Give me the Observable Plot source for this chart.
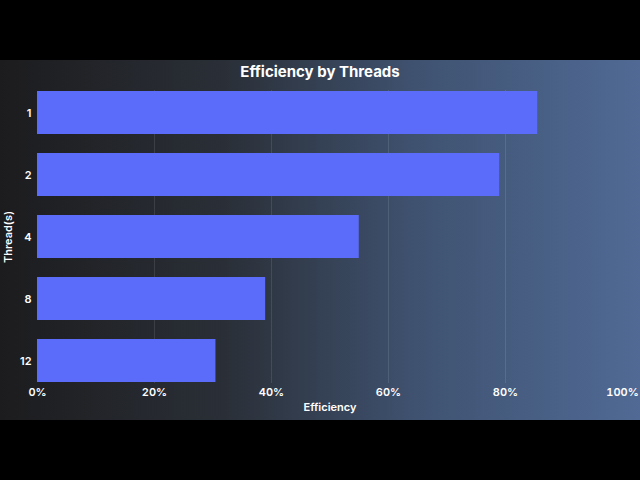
<!DOCTYPE html>
<html>
<head>
<meta charset="utf-8">
<script src="https://cdn.jsdelivr.net/npm/d3@7"></script>
<script src="https://cdn.jsdelivr.net/npm/@observablehq/plot@0.6"></script>
<style>
  html, body { margin: 0; padding: 0; background: #000; width: 640px; height: 480px; overflow: hidden; }
  #frame { position: absolute; left: 0; top: 60px; width: 640px; height: 360px;
    background: linear-gradient(90deg, #1c1c1e 0%, #2a2f37 35%, #3f5270 65%, #506a95 100%); }
  #title { position: absolute; left: 0; top: 2px; width: 640px; text-align: center;
    font-family: Inter, "Noto Sans", sans-serif; font-weight: 700; font-size: 15px; color: #fff; }
  #chart { position: absolute; left: 0; top: 0; }
</style>
</head>
<body>
<div id="frame">
  <div id="chart"></div>
  <div id="title">Efficiency by Threads</div>
</div>
<script>
const threads = ["1", "2", "4", "8", "12"];
const efficiency = [0.855, 0.79, 0.55, 0.39, 0.305];
const xTicks = [0, 0.2, 0.4, 0.6, 0.8, 1.0];
const gridTicks = [0.2, 0.4, 0.6, 0.8];

const data = threads.map((t, i) => ({thread: t, efficiency: efficiency[i]}));

const chart = Plot.plot({
  width: 640,
  height: 360,
  marginTop: 30,
  marginBottom: 37,
  marginLeft: 37,
  marginRight: 18,
  style: {
    background: "transparent",
    color: "#fff",
    fontFamily: "Inter, 'Noto Sans', sans-serif",
    fontSize: "11px",
    fontWeight: 600
  },
  x: {
    domain: [0, 1],
    ticks: xTicks,
    tickFormat: d3.format(".0%"),
    tickSize: 0,
    tickPadding: 5,
    label: "Efficiency",
    labelAnchor: "center",
    labelArrow: "none",
    labelOffset: 27
  },
  y: {
    domain: threads,
    paddingInner: 0.31,
    paddingOuter: 0,
    tickSize: 0,
    tickPadding: 6,
    label: "Thread(s)",
    labelAnchor: "center",
    labelArrow: "none",
    labelOffset: 33
  },
  marks: [
    Plot.ruleX(gridTicks, {stroke: "#ffffff", strokeOpacity: 0.1}),
    Plot.barX(data, {x: "efficiency", y: "thread", fill: "#5b6cfa"})
  ]
});
document.getElementById("chart").appendChild(chart);
</script>
</body>
</html>
